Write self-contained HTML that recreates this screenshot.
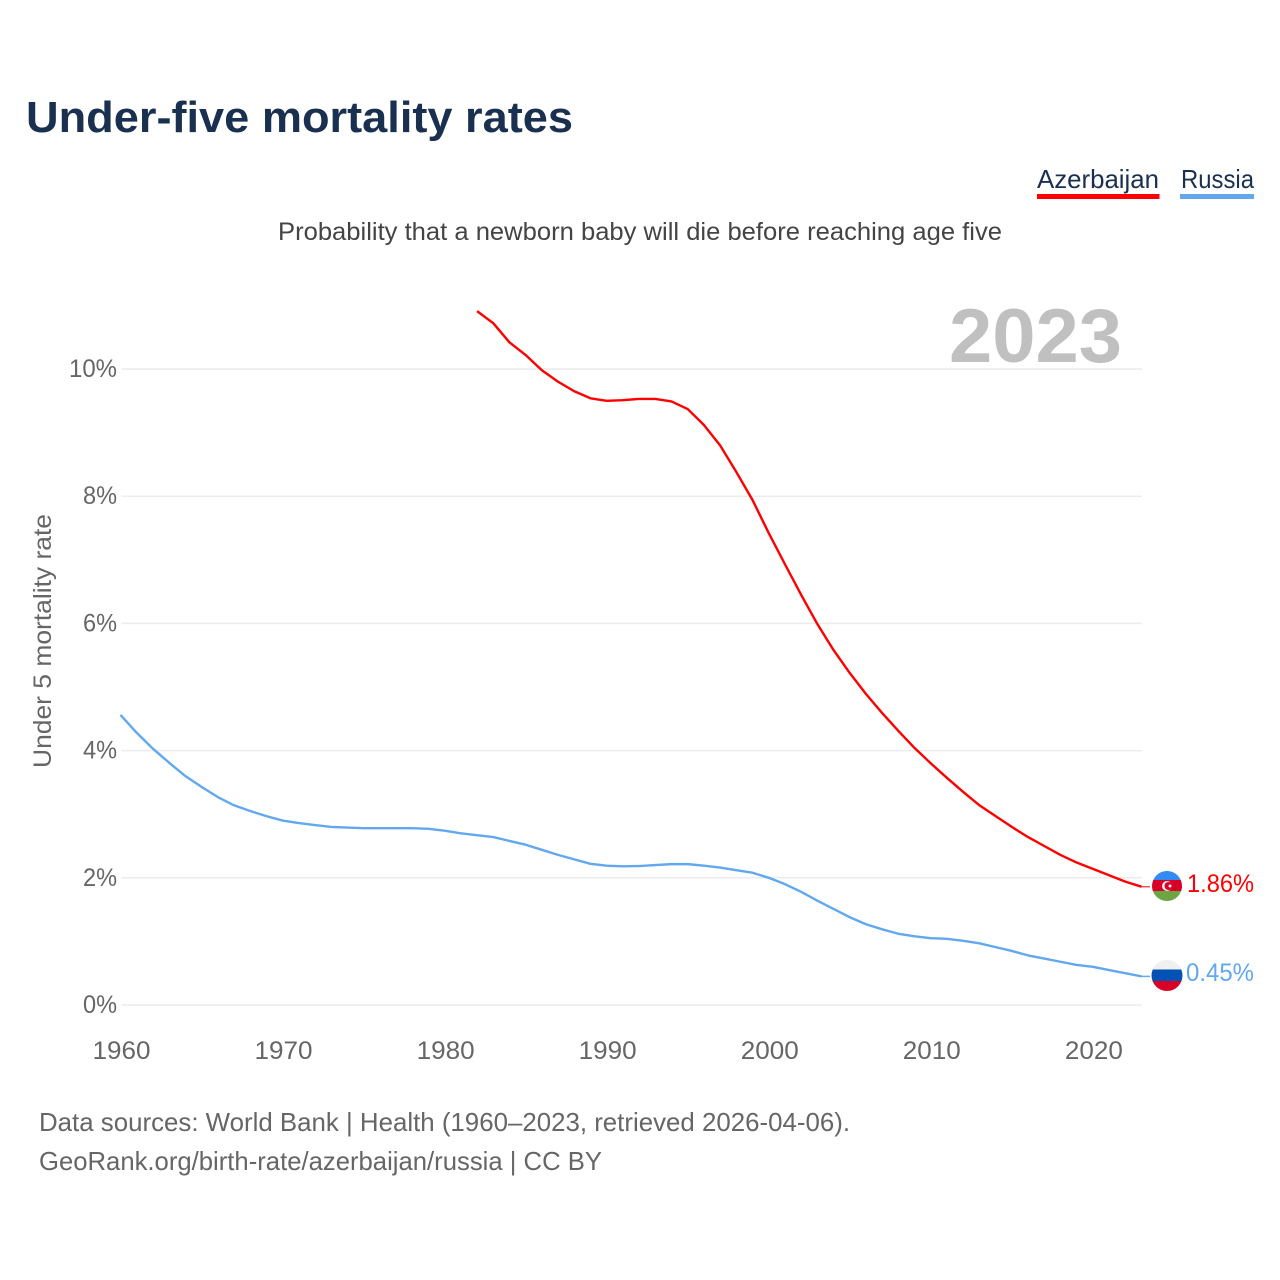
<!DOCTYPE html>
<html lang="en">
<head>
<meta charset="utf-8">
<title>Under-five mortality rates</title>
<style>
html,body{margin:0;padding:0;background:#fff;width:1280px;height:1280px;overflow:hidden}
svg{display:block}
text{font-family:"Liberation Sans",sans-serif}
</style>
</head>
<body>
<svg id="chart" width="1280" height="1280" viewBox="0 0 1280 1280" xmlns="http://www.w3.org/2000/svg">
  <text x="26" y="132" font-size="44" font-weight="700" fill="#1a3050" textLength="547" lengthAdjust="spacingAndGlyphs">Under-five mortality rates</text>

  <g>
    <g>
      <text x="1037" y="188" font-size="26" fill="#1a3050" textLength="122" lengthAdjust="spacingAndGlyphs">Azerbaijan</text>
      <rect x="1037" y="194" width="122.500" height="5" fill="#ff0000"/>
    </g>
    <g>
      <text x="1181" y="188" font-size="26" fill="#1a3050" textLength="73" lengthAdjust="spacingAndGlyphs">Russia</text>
      <rect x="1180" y="194" width="74" height="5" fill="#62a8ee"/>
    </g>
  </g>

  <text x="278" y="240" font-size="25" fill="#444444" textLength="724" lengthAdjust="spacingAndGlyphs">Probability that a newborn baby will die before reaching age five</text>

  <g id="grid"></g>
  <g id="y-ticks"></g>
  <g id="x-ticks"></g>

  <text x="949" y="362" font-size="76" font-weight="700" fill="#c0c0c0" textLength="173" lengthAdjust="spacingAndGlyphs">2023</text>

  <text transform="translate(51,768) rotate(-90)" font-size="25" fill="#666666" textLength="254" lengthAdjust="spacingAndGlyphs">Under 5 mortality rate</text>

  <g id="series"></g>

  <defs>
    <clipPath id="clip-az"><circle cx="1167" cy="886" r="15"/></clipPath>
    <clipPath id="clip-ru"><circle cx="1167" cy="975.500" r="15.500"/></clipPath>
  </defs>
  <g clip-path="url(#clip-az)">
    <rect x="1152" y="871" width="30" height="9" fill="#338af3"/>
    <rect x="1152" y="880" width="30" height="11" fill="#d80027"/>
    <rect x="1152" y="891" width="30" height="10" fill="#6da544"/>
    <circle cx="1167" cy="886" r="5" fill="#f0f0f0"/>
    <circle cx="1168.500" cy="886" r="4" fill="#d80027"/>
    <circle cx="1170" cy="886" r="1.500" fill="#f0f0f0"/>
  </g>
  <g clip-path="url(#clip-ru)">
    <rect x="1151" y="960" width="32" height="9.500" fill="#f0f0f0"/>
    <rect x="1151" y="969.500" width="32" height="11.500" fill="#0052b4"/>
    <rect x="1151" y="981" width="32" height="10" fill="#d80027"/>
  </g>

  <text x="1187" y="892" font-size="25" fill="#ff0000" textLength="67" lengthAdjust="spacingAndGlyphs">1.86%</text>
  <text x="1186" y="981" font-size="25" fill="#62a8ee" textLength="68" lengthAdjust="spacingAndGlyphs">0.45%</text>

  <text x="39" y="1131" font-size="26" fill="#666666" textLength="811" lengthAdjust="spacingAndGlyphs">Data sources: World Bank | Health (1960–2023, retrieved 2026-04-06).</text>
  <text x="39" y="1170" font-size="26" fill="#666666" textLength="563" lengthAdjust="spacingAndGlyphs">GeoRank.org/birth-rate/azerbaijan/russia | CC BY</text>
</svg>
<script>
const yTicks = [0, 2, 4, 6, 8, 10];
const xTicks = [1960, 1970, 1980, 1990, 2000, 2010, 2020];
const azStartYear = 1982;
const azerbaijan = [10.91,10.72,10.42,10.22,9.98,9.80,9.65,9.54,9.50,9.51,9.53,9.53,9.49,9.37,9.12,8.80,8.38,7.94,7.42,6.93,6.45,5.99,5.58,5.22,4.89,4.59,4.31,4.04,3.80,3.57,3.35,3.14,2.97,2.80,2.64,2.50,2.36,2.24,2.14,2.04,1.94,1.86];
const ruStartYear = 1960;
const russia = [4.56,4.28,4.03,3.81,3.60,3.43,3.27,3.14,3.05,2.97,2.90,2.86,2.83,2.80,2.79,2.78,2.78,2.78,2.78,2.77,2.74,2.70,2.67,2.64,2.58,2.52,2.44,2.36,2.29,2.22,2.19,2.18,2.185,2.20,2.215,2.215,2.19,2.16,2.12,2.08,2.00,1.90,1.78,1.64,1.51,1.38,1.27,1.19,1.12,1.08,1.05,1.04,1.01,0.97,0.91,0.85,0.78,0.73,0.68,0.63,0.60,0.55,0.50,0.45];

const NS = 'http://www.w3.org/2000/svg';
const xScale = function (year) { return 120.5 + (year - 1960) * 16.206; };
const yScale = function (v) { return 1005 - v * 63.6; };

function make(tag, attrs, parent) {
  const el = document.createElementNS(NS, tag);
  Object.keys(attrs).forEach(function (k) { el.setAttribute(k, attrs[k]); });
  parent.appendChild(el);
  return el;
}

const grid = document.getElementById('grid');
const yAxis = document.getElementById('y-ticks');
yTicks.forEach(function (t) {
  const line = make('line', { x1: 121.5, x2: 1142, y1: yScale(t), y2: yScale(t), stroke: '#ececec', 'stroke-width': 1.5 }, grid);
  
  
  const label = make('text', { x: 117, y: yScale(t) + 8, 'font-size': 25, fill: '#666666', 'text-anchor': 'end', textLength: String(t).length > 1 ? 48 : 34, lengthAdjust: 'spacingAndGlyphs' }, yAxis);
  
  
  label.textContent = t + '%';
});

const xAxis = document.getElementById('x-ticks');
xTicks.forEach(function (t) {
  const label = make('text', { x: xScale(t) + 1, y: 1059, 'font-size': 25, fill: '#666666', 'text-anchor': 'middle', textLength: 58, lengthAdjust: 'spacingAndGlyphs' }, xAxis);
  
  
  label.textContent = t;
});

function pathFor(values, startYear) {
  return values.map(function (v, i) {
    return (i ? 'L' : 'M') + xScale(startYear + i).toFixed(2) + ' ' + yScale(v).toFixed(2);
  }).join(' ');
}

const series = document.getElementById('series');
const azLine = make('path', { d: pathFor(azerbaijan, azStartYear), fill: 'none', stroke: '#ff0000', 'stroke-width': 2.4, 'stroke-linejoin': 'round' }, series);


const ruLine = make('path', { d: pathFor(russia, ruStartYear), fill: 'none', stroke: '#62a8ee', 'stroke-width': 2.4, 'stroke-linejoin': 'round' }, series);



const azLast = azerbaijan[azerbaijan.length - 1];
const ruLast = russia[russia.length - 1];
const azLead = make('line', { x1: xScale(2023), x2: 1150, y1: yScale(azLast), y2: yScale(azLast), stroke: '#ff5050', 'stroke-width': 1.5 }, series);


const ruLead = make('line', { x1: xScale(2023), x2: 1150, y1: yScale(ruLast), y2: yScale(ruLast), stroke: '#62a8ee', 'stroke-width': 1.5 }, series);


</script>
</body>
</html>
